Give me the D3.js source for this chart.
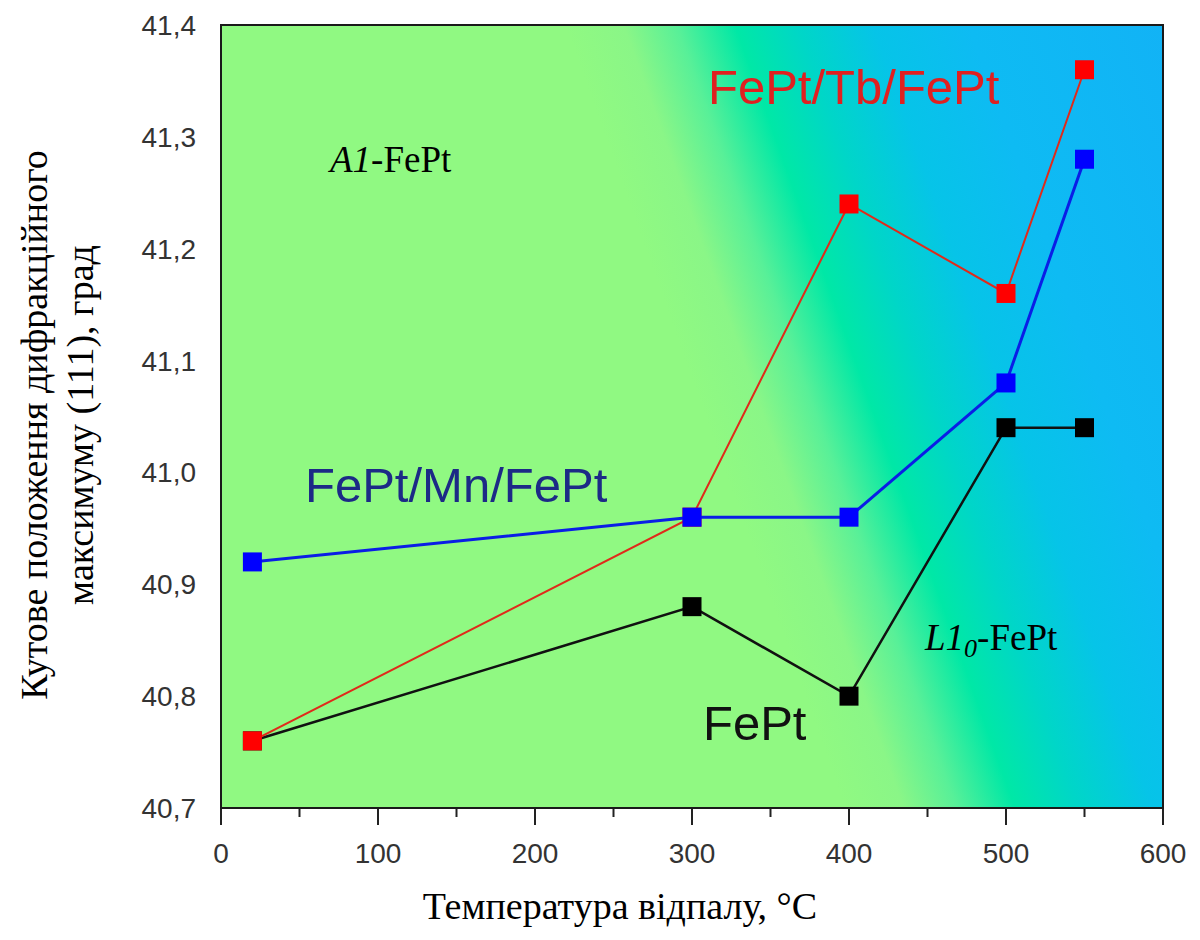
<!DOCTYPE html>
<html><head><meta charset="utf-8">
<script src="https://cdn.jsdelivr.net/npm/d3@7"></script>
<style>html,body{margin:0;padding:0;background:#fff;}svg{display:block;}</style>
</head><body>
<svg id="chart" width="1200" height="940"></svg>
<script>
// ---- data ----
const temps = [20, 300, 400, 500, 550];
const fept = [40.76, 40.88, 40.80, 41.04, 41.04];
const feptTb = [40.76, 40.96, 41.24, 41.16, 41.36];
const feptMn = [40.92, 40.96, 40.96, 41.08, 41.28];
const xTicks = [0, 100, 200, 300, 400, 500, 600];
const xMinorTicks = [50, 150, 250, 350, 450, 550];
const yTicks = [40.7, 40.8, 40.9, 41.0, 41.1, 41.2, 41.3, 41.4];
const seriesNames = ["FePt", "FePt/Tb/FePt", "FePt/Mn/FePt"];

const svg = d3.select("#chart");
const L = 221, R = 1163, T = 25, B = 808;
const x = d3.scaleLinear().domain([0, 600]).range([L, R]);
const y = d3.scaleLinear().domain([40.7, 41.4]).range([B, T]);

// background gradient (slanted)
const defs = svg.append("defs");
const ux = 0.9416, uy = -0.3367, cx = 735, cy = 25, S = 420;
const grad = defs.append("linearGradient").attr("id", "bg")
  .attr("gradientUnits", "userSpaceOnUse")
  .attr("x1", cx - S * ux).attr("y1", cy - S * uy)
  .attr("x2", cx + S * ux).attr("y2", cy + S * uy);
const stops = [[-420, "#90f982"], [-160, "#90f982"], [-105, "#8af687"], [-55, "#58f098"],
  [0, "#00e8a6"], [60, "#00d6c8"], [130, "#06c4e8"], [220, "#0ebbf3"], [420, "#12b2f6"]];
stops.forEach(s => grad.append("stop").attr("offset", (s[0] + S) / (2 * S)).attr("stop-color", s[1]));

svg.append("rect").attr("x", L).attr("y", T).attr("width", R - L).attr("height", B - T)
  .attr("fill", "url(#bg)");

// x ticks
const g = svg.append("g");
g.selectAll(".xt").data(xTicks).join("line")
  .attr("x1", d => x(d)).attr("x2", d => x(d)).attr("y1", B).attr("y2", B + 17)
  .attr("stroke", "#222").attr("stroke-width", 2);
g.selectAll(".xm").data(xMinorTicks).join("line")
  .attr("x1", d => x(d)).attr("x2", d => x(d)).attr("y1", B).attr("y2", B + 9)
  .attr("stroke", "#222").attr("stroke-width", 2);
g.selectAll(".xl").data(xTicks).join("text")
  .attr("x", d => x(d)).attr("y", 863).attr("text-anchor", "middle")
  .attr("font-family", "Liberation Sans, Arial, sans-serif").attr("font-size", 28)
  .attr("fill", "#333").text(d => d);
const fmt = d3.format(".1f");
g.selectAll(".yl").data(yTicks).join("text")
  .attr("x", 196).attr("y", d => y(d) + 10).attr("text-anchor", "end")
  .attr("font-family", "Liberation Sans, Arial, sans-serif").attr("font-size", 28)
  .attr("fill", "#333").text(d => fmt(d).replace(".", ","));

// frame
svg.append("rect").attr("x", L).attr("y", T).attr("width", R - L).attr("height", B - T)
  .attr("fill", "none").attr("stroke", "#1a1a1a").attr("stroke-width", 2);

// series
const line = d3.line().x(d => x(d[0])).y(d => y(d[1]));
const series = [
  {name: seriesNames[0], vals: fept, line: "#111", mark: "#000", w: 2.5},
  {name: seriesNames[1], vals: feptTb, line: "#e02a1a", mark: "#ff0000", w: 2},
  {name: seriesNames[2], vals: feptMn, line: "#0a1ee6", mark: "#0000ff", w: 3}
];
const ms = 19;
series.forEach(s => {
  const pts = temps.map((t, i) => [t, s.vals[i]]);
  svg.append("path").datum(pts).attr("d", line).attr("fill", "none")
    .attr("stroke", s.line).attr("stroke-width", s.w);
  svg.selectAll(null).data(pts).join("rect")
    .attr("x", d => x(d[0]) - ms / 2).attr("y", d => y(d[1]) - ms / 2)
    .attr("width", ms).attr("height", ms).attr("fill", s.mark);
});

// annotations
const sans = "Liberation Sans, Arial, sans-serif";
const serif = "Liberation Serif, Times New Roman, serif";
svg.append("text").attr("x", 708).attr("y", 104).attr("font-family", sans).attr("font-size", 49)
  .attr("fill", "#e02020").text(seriesNames[1]);
svg.append("text").attr("x", 305).attr("y", 502).attr("font-family", sans).attr("font-size", 49)
  .attr("fill", "#1c2a86").text(seriesNames[2]);
svg.append("text").attr("x", 703).attr("y", 740).attr("font-family", sans).attr("font-size", 49)
  .attr("fill", "#111").text(seriesNames[0]);

const a1 = svg.append("text").attr("x", 330).attr("y", 172).attr("font-family", serif)
  .attr("font-size", 37).attr("fill", "#000");
a1.append("tspan").attr("font-style", "italic").text("A1");
a1.append("tspan").text("-FePt");

const l10 = svg.append("text").attr("x", 925).attr("y", 650).attr("font-family", serif)
  .attr("font-size", 37).attr("fill", "#000");
l10.append("tspan").attr("font-style", "italic").text("L1");
l10.append("tspan").attr("font-style", "italic").attr("font-size", 26).attr("dy", 7).text("0");
l10.append("tspan").attr("dy", -7).text("-FePt");

// axis titles
svg.append("text").attr("x", 620).attr("y", 919).attr("text-anchor", "middle")
  .attr("font-family", serif).attr("font-size", 38).attr("fill", "#000")
  .text("Температура відпалу, °C");
const yt = svg.append("text").attr("transform", "translate(0,425) rotate(-90)")
  .attr("text-anchor", "middle").attr("font-family", serif).attr("font-size", 38).attr("fill", "#000");
yt.append("tspan").attr("x", 0).attr("y", 47).text("Кутове положення дифракційного");
yt.append("tspan").attr("x", 0).attr("y", 93).text("максимуму (111), град");
</script>
</body></html>
